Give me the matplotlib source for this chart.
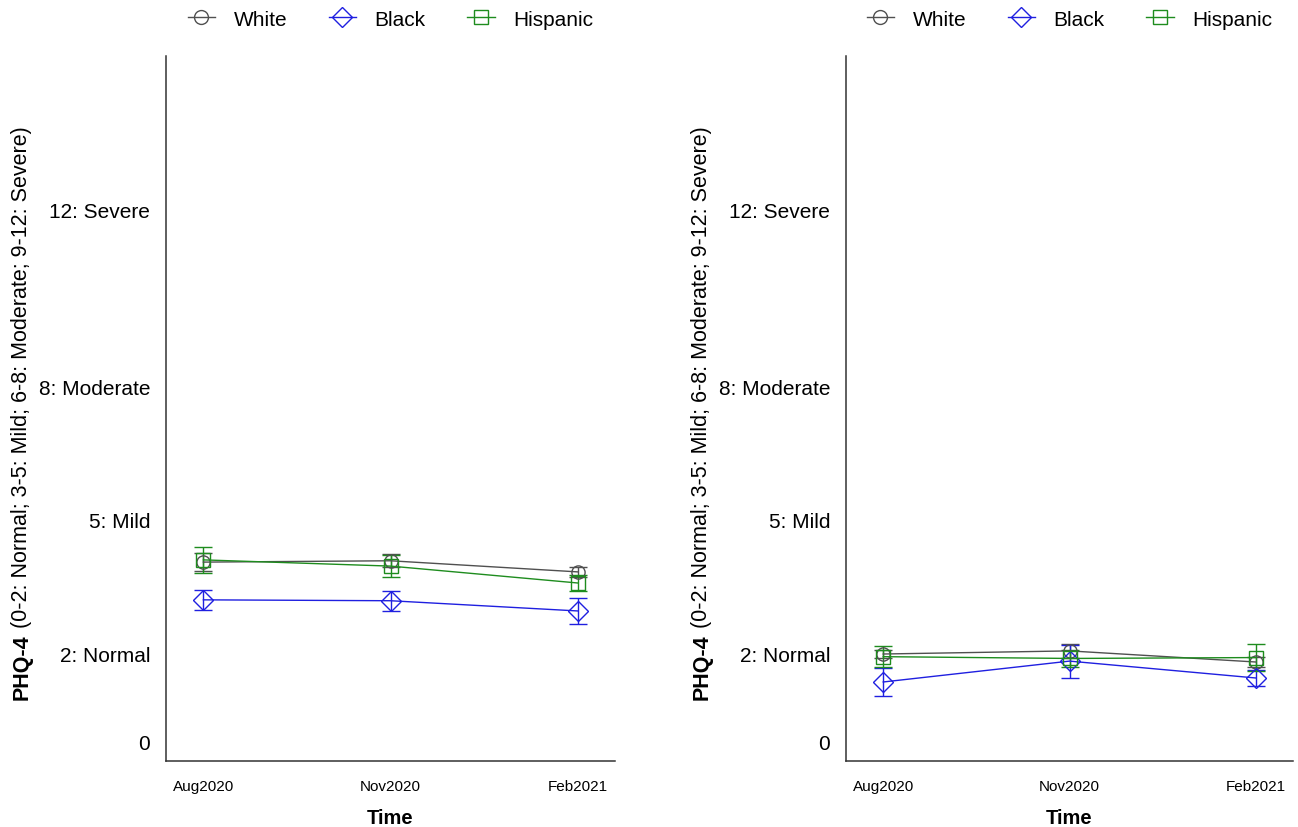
import matplotlib
matplotlib.use("Agg")
import matplotlib.pyplot as plt
from matplotlib.lines import Line2D

plt.rcParams["font.family"] = ["Liberation Sans", "DejaVu Sans"]

waves = ["Aug2020", "Nov2020", "Feb2021"]
groups = ["White", "Black", "Hispanic"]

# left panel
left_white = [4.05, 4.08, 3.83]
left_white_err = [0.20, 0.15, 0.12]
left_black = [3.20, 3.18, 2.95]
left_black_err = [0.22, 0.23, 0.30]
left_hisp = [4.10, 3.96, 3.58]
left_hisp_err = [0.29, 0.25, 0.17]

# right panel
right_white = [1.98, 2.05, 1.80]
right_white_err = [0.10, 0.15, 0.12]
right_black = [1.35, 1.82, 1.44]
right_black_err = [0.31, 0.37, 0.18]
right_hisp = [1.92, 1.88, 1.90]
right_hisp_err = [0.24, 0.20, 0.30]

ytick_vals = [0, 2, 5, 8, 12]
ytick_labels = ["0", "2: Normal", "5: Mild", "8: Moderate", "12: Severe"]

colors = {"White": "#505050", "Black": "#1f1fe0", "Hispanic": "#1e8c1e"}
markers = {"White": "o", "Black": "D", "Hispanic": "s"}
msizes = {"White": 9.5, "Black": 10, "Hispanic": 9.5}

fig = plt.figure(figsize=(12.98, 8.28), dpi=100)
W, H = 1298, 828


def panel(rect, series):
    ax = fig.add_axes(rect)
    x = list(range(1, len(waves) + 1))
    for g, (vals, errs) in zip(groups, series):
        ax.errorbar(x, vals, yerr=errs, color=colors[g], marker=markers[g], ms=msizes[g],
                    mfc="none", mew=1.0, lw=1.0, elinewidth=1.0, capsize=6.5, capthick=1.0)
    ax.set_xlim(0.8, 3.2)
    ax.set_ylim(-0.43, 15.45)
    ax.set_xticks(x)
    ax.set_xticklabels(waves, fontsize=11)
    ax.set_yticks(ytick_vals)
    ax.set_yticklabels(ytick_labels, fontsize=15)
    ax.tick_params(axis="y", length=0, pad=11.5)
    ax.tick_params(axis="x", length=0, pad=13)
    for s in ["top", "right"]:
        ax.spines[s].set_visible(False)
    for s in ["left", "bottom"]:
        ax.spines[s].set_color("#333333")
        ax.spines[s].set_linewidth(1.1)
    ax.set_xlabel("Time", fontsize=14.5, fontweight="bold", labelpad=11)

    handles = [Line2D([], [], color=colors[g], marker=markers[g], ms=msizes[g] + 0.5,
                      mfc="none", mew=1.0, lw=1.0) for g in groups]
    ax.legend(handles, groups, loc="center", bbox_to_anchor=(0.5, 1 + 37 / 705), ncol=3,
              frameon=False, fontsize=15, handlelength=1.3, handletextpad=0.9,
              columnspacing=2.0)
    return ax


ax1 = panel([166 / W, 1 - 762 / H, 449 / W, 705 / H],
            [(left_white, left_white_err), (left_black, left_black_err), (left_hisp, left_hisp_err)])
ax2 = panel([846 / W, 1 - 762 / H, 447 / W, 705 / H],
            [(right_white, right_white_err), (right_black, right_black_err), (right_hisp, right_hisp_err)])

# y label: bold "PHQ-4" followed by the plain range description
rest = " (0-2: Normal; 3-5: Mild; 6-8: Moderate; 9-12: Severe)"
for xpix in (22, 702):
    bold = fig.text(xpix / W, 1 - 700 / H, "PHQ-4", rotation=90, fontsize=15.5,
                    fontweight="bold", ha="center", va="bottom")
    ax1.annotate(rest, xy=(0.5, 1.0), xycoords=bold, rotation=90, fontsize=15.5,
                 ha="center", va="bottom", annotation_clip=False)

fig.savefig("out.png", dpi=100)
